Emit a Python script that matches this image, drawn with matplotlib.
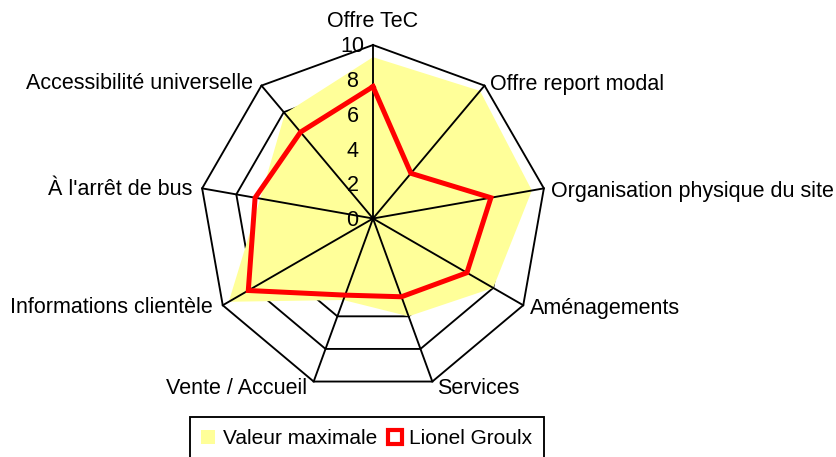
import numpy as np
import matplotlib
matplotlib.use('Agg')
import matplotlib.pyplot as plt
from matplotlib.patches import Patch, Rectangle

categories = ["Offre TeC", "Offre report modal", "Organisation physique du site",
              "Aménagements", "Services", "Vente / Accueil",
              "Informations clientèle", "À l'arrêt de bus", "Accessibilité universelle"]
valeur_maximale = [9.3, 9.6, 9.3, 8.0, 6.0, 5.0, 9.6, 6.6, 7.9]
lionel_groulx = [7.6, 3.4, 6.9, 6.25, 4.8, 4.7, 8.3, 6.9, 6.5]
ring_levels = [2, 4, 6, 8, 10]
tick_values = [0, 2, 4, 6, 8, 10]
tick_labels = ["0", "2", "4", "6", "8", "10"]
series_names = ["Valeur maximale", "Lionel Groulx"]

plt.rcParams['font.family'] = ['Liberation Sans', 'DejaVu Sans']
FS = 15.5
LEG_FS = 15
YELLOW = '#FFFF99'
RED = '#FF0000'
GRID_LW = 1.35

W, H = 837, 457
fig = plt.figure(figsize=(W / 100, H / 100), dpi=100)
cx, cy, R = 373, 218.5, 173.5
ax = fig.add_axes([(cx - R) / W, (H - cy - R) / H, 2 * R / W, 2 * R / H], projection='polar')
ax.set_theta_zero_location('N')
ax.set_theta_direction(-1)
ax.set_ylim(0, 10)
ax.set_axis_off()

n = len(categories)
theta = np.arange(n) * 2 * np.pi / n
theta_c = np.append(theta, theta[0])

for lv in ring_levels:
    ax.plot(theta_c, [lv] * (n + 1), color='black', lw=GRID_LW, zorder=1, clip_on=False)

ax.fill(theta_c, valeur_maximale + valeur_maximale[:1], color=YELLOW, lw=0, zorder=2)

for t in theta:
    ax.plot([t, t], [0, 10], color='black', lw=GRID_LW, zorder=3, clip_on=False)

ax.plot(theta_c, lionel_groulx + lionel_groulx[:1], color=RED, lw=3.6, zorder=4,
        solid_joinstyle='miter', clip_on=False)

# category labels (offset in pixels from the outer vertex)
label_offsets = [(0, 18, 'center'), (5, -4, 'left'), (7, -9, 'left'), (7, -9, 'left'),
                 (5, -12, 'left'), (-7, -12, 'right'), (-10, -8, 'right'),
                 (-10, -7, 'right'), (-8.5, -3, 'right')]
for t, lab, (dx, dy, ha) in zip(theta, categories, label_offsets):
    ax.annotate(lab, xy=(t, 10), xytext=(dx, dy), textcoords='offset pixels',
                ha=ha, va='baseline', fontsize=FS, annotation_clip=False)

for v, lab in zip(tick_values, tick_labels):
    ax.annotate(lab, xy=(0, v), xytext=(-20.5, -7.5), textcoords='offset pixels',
                ha='center', va='baseline', fontsize=FS, annotation_clip=False, zorder=5)

handles = [Patch(facecolor=YELLOW, edgecolor='none'),
           Patch(facecolor='white', edgecolor=RED, lw=3)]
leg = fig.legend(handles, series_names, loc='center', bbox_to_anchor=(367 / W, 1 - 438.5 / H),
                 ncol=2, frameon=False, fontsize=LEG_FS,
                 handlelength=0.67, handleheight=0.67, handletextpad=0.38,
                 columnspacing=0.48, borderpad=0, borderaxespad=0)
# legend frame (its lower edge runs past the bottom of the picture, as in the reference)
fig.add_artist(Rectangle((190.5 / W, -10 / H), (544 - 190.5) / W, 50 / H,
                         transform=fig.transFigure, fill=False, edgecolor='black',
                         lw=GRID_LW, clip_on=False))

fig.savefig('out.png', dpi=100)
